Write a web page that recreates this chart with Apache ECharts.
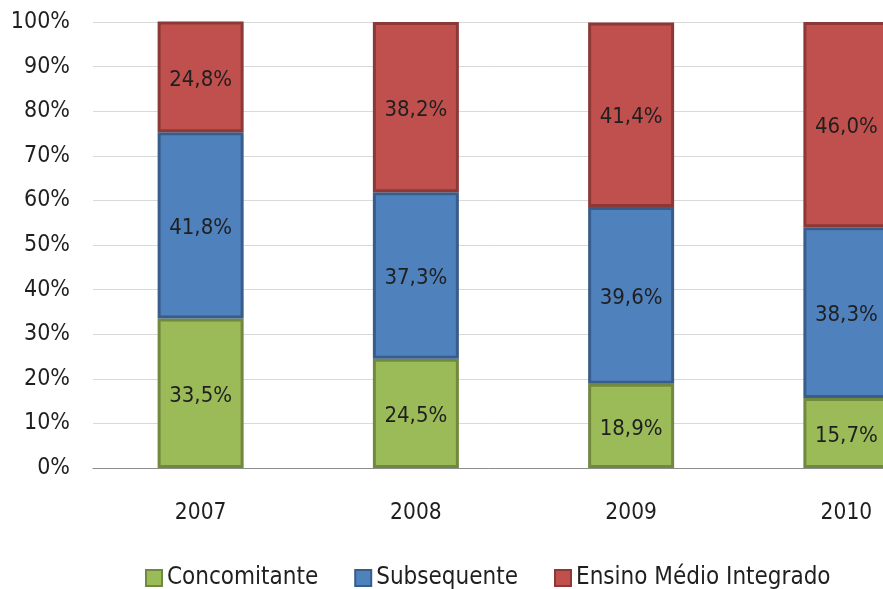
<!DOCTYPE html>
<html>
<head>
<meta charset="utf-8">
<script src="https://cdn.jsdelivr.net/npm/echarts@6/dist/echarts.min.js"></script>
<style>
  html, body { margin: 0; padding: 0; background: #fff; }
  #chart { width: 883px; height: 589px; }
</style>
</head>
<body>
<div id="chart"></div>
<script>
// Share of enrolments by course type, per year (%)
const years = ['2007', '2008', '2009', '2010'];
const concomitante = [33.5, 24.5, 18.9, 15.7];
const subsequente = [41.8, 37.3, 39.6, 38.3];
const ensinoMedioIntegrado = [24.8, 38.2, 41.4, 46.0];
const yTicks = [0, 10, 20, 30, 40, 50, 60, 70, 80, 90, 100];

const FONT = '"Liberation Sans Narrow", "DejaVu Sans Condensed", "Noto Sans", sans-serif';
const TEXT = '#1f1f1f';
const fmt = v => v.toFixed(1).replace('.', ',') + '%';

function barSeries(name, values, fill, edge) {
  return {
    name: name,
    type: 'bar',
    stack: 'total',
    data: values,
    barWidth: 86,
    itemStyle: { color: fill, borderColor: edge, borderWidth: 3 },
    label: {
      show: true,
      position: 'inside',
      offset: [0, 3],
      formatter: p => fmt(p.value),
      color: TEXT,
      fontFamily: FONT,
      fontSize: 22
    },
    emphasis: { disabled: true }
  };
}

const chart = echarts.init(document.getElementById('chart'));
chart.setOption({
  animation: false,
  // the plot area runs past the right edge, so the last bar is cut off
  grid: { left: 93, top: 22, width: 861, height: 446, containLabel: false, outerBoundsMode: 'none' },
  legend: {
    top: 566,
    left: 145,
    padding: 0,
    itemGap: 36,
    itemWidth: 16,
    itemHeight: 16,
    icon: 'rect',
    textStyle: { fontFamily: FONT, fontSize: 24, color: TEXT },
    data: ['Concomitante', 'Subsequente', 'Ensino Médio Integrado']
  },
  xAxis: {
    type: 'category',
    data: years,
    axisLine: { lineStyle: { color: '#8c8c8c', width: 1 } },
    axisTick: { show: false },
    axisLabel: { fontFamily: FONT, fontSize: 22.5, color: TEXT, margin: 34 }
  },
  yAxis: {
    type: 'value',
    min: yTicks[0],
    max: yTicks[yTicks.length - 1],
    interval: 10,
    axisLine: { show: false },
    axisTick: { show: false },
    splitLine: { lineStyle: { color: '#d9d9d9', width: 1 } },
    axisLabel: {
      fontFamily: FONT, fontSize: 23, color: TEXT, margin: 23,
      formatter: v => v + '%'
    }
  },
  series: [
    barSeries('Concomitante', concomitante, '#9BBB59', '#71893F'),
    barSeries('Subsequente', subsequente, '#4F81BD', '#385D8A'),
    barSeries('Ensino Médio Integrado', ensinoMedioIntegrado, '#C0504D', '#8C3836')
  ]
});
</script>
</body>
</html>
